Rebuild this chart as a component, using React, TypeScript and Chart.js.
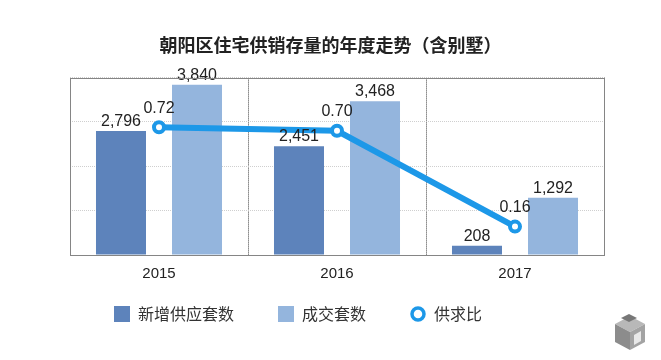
import React, { useEffect, useRef } from 'react';
import { Chart, registerables } from 'chart.js';

Chart.register(...registerables);

const categories = ['2015', '2016', '2017'];
const newSupply = [2796, 2451, 208];
const deals = [3840, 3468, 1292];
const ratio = [0.72, 0.7, 0.16];
const seriesNames = ['新增供应套数', '成交套数', '供求比'];
const titleText = '朝阳区住宅供销存量的年度走势（含别墅）';
const yMax = 4000;
const yStep = 1000;
const ratioMax = 1;

const DARK = '#5d83bb';
const LIGHT = '#94b5dd';
const LINE = '#1d98e8';
const NUM_FONT = '"Liberation Sans", Arial, Helvetica, sans-serif';
const CJK_FONT = '"Noto Sans CJK SC", "Noto Sans", sans-serif';

function ringImage(): HTMLCanvasElement {
  const c = document.createElement('canvas');
  c.width = 18;
  c.height = 18;
  const g = c.getContext('2d')!;
  g.beginPath();
  g.arc(9, 9, 6, 0, Math.PI * 2);
  g.fillStyle = '#fff';
  g.fill();
  g.lineWidth = 3.5;
  g.strokeStyle = LINE;
  g.stroke();
  return c;
}

const valueLabels = {
  id: 'valueLabels',
  afterDatasetsDraw(chart: any) {
    const ctx = chart.ctx;
    ctx.save();
    ctx.fillStyle = '#222';
    ctx.textAlign = 'center';
    ctx.textBaseline = 'alphabetic';
    ctx.font = `16px ${NUM_FONT}`;
    chart.data.datasets.forEach((ds: any, di: number) => {
      const meta = chart.getDatasetMeta(di);
      meta.data.forEach((el: any, i: number) => {
        const v = ds.data[i];
        if (ds.type === 'line') {
          ctx.fillText(v.toFixed(2), el.x, el.y - 14.5);
        } else {
          ctx.fillText(v.toLocaleString('en-US'), el.x, el.y - 5);
        }
      });
    });
    ctx.restore();
  },
};

const plotBorder = {
  id: 'plotBorder',
  afterDraw(chart: any) {
    const { ctx, chartArea } = chart;
    const { left, right, top, bottom } = chartArea;
    ctx.save();
    ctx.strokeStyle = '#858585';
    ctx.lineWidth = 1;
    ctx.strokeRect(Math.round(left) + 0.5, Math.round(top) + 0.5, Math.round(right - left), Math.round(bottom - top));
    ctx.restore();
  },
};

const logo = {
  id: 'logo',
  afterDraw(chart: any) {
    const ctx = chart.ctx;
    const poly = (pts: number[][], fill: string) => {
      ctx.beginPath();
      ctx.moveTo(pts[0][0], pts[0][1]);
      for (let i = 1; i < pts.length; i++) ctx.lineTo(pts[i][0], pts[i][1]);
      ctx.closePath();
      ctx.fillStyle = fill;
      ctx.fill();
    };
    ctx.save();
    const cx = 630;
    const ty = 316;
    poly([[cx, ty], [cx + 15, ty + 8], [cx, ty + 16], [cx - 15, ty + 8]], '#b8b8b8');
    poly([[cx - 15, ty + 8], [cx, ty + 16], [cx, ty + 34], [cx - 15, ty + 26]], '#8c8c8c');
    poly([[cx + 15, ty + 8], [cx + 15, ty + 26], [cx, ty + 34], [cx, ty + 16]], '#a3a3a3');
    poly([[cx - 1, ty - 2], [cx + 7, ty + 2], [cx - 1, ty + 6], [cx - 9, ty + 2]], '#777');
    poly([[cx + 4, ty + 19], [cx + 11, ty + 15], [cx + 11, ty + 25], [cx + 4, ty + 29]], '#e8e8e8');
    ctx.restore();
  },
};

export default function App() {
  const ref = useRef<HTMLCanvasElement | null>(null);

  useEffect(() => {
    if (!ref.current) return;
    const ring = ringImage();
    const chart = new Chart(ref.current, {
      data: {
        labels: categories,
        datasets: [
          {
            type: 'bar',
            label: seriesNames[0],
            data: newSupply,
            backgroundColor: DARK,
            borderWidth: 0,
            yAxisID: 'y',
            order: 2,
            categoryPercentage: 0.854,
            barPercentage: 0.658,
          },
          {
            type: 'bar',
            label: seriesNames[1],
            data: deals,
            backgroundColor: LIGHT,
            borderWidth: 0,
            yAxisID: 'y',
            order: 2,
            categoryPercentage: 0.854,
            barPercentage: 0.658,
          },
          {
            type: 'line',
            label: seriesNames[2],
            data: ratio,
            borderColor: LINE,
            backgroundColor: '#fff',
            borderWidth: 6,
            pointRadius: 5,
            pointBorderWidth: 4,
            pointBackgroundColor: '#fff',
            pointBorderColor: LINE,
            yAxisID: 'y1',
            order: 0,
          },
        ] as any,
      },
      options: {
        responsive: false,
        animation: false,
        layout: { padding: { top: 0, bottom: 28, left: 0, right: 0 } },
        plugins: {
          tooltip: { enabled: false },
          title: {
            display: true,
            text: titleText,
            color: '#222',
            font: { family: CJK_FONT, size: 18, weight: 'bold' },
            padding: { top: 34, bottom: 22 },
          },
          legend: {
            display: true,
            position: 'bottom',
            align: 'start',
            fullSize: false,
            labels: {
              usePointStyle: true,
              boxWidth: 16,
              boxHeight: 16,
              padding: 44,
              color: '#333',
              font: { family: CJK_FONT, size: 16 },
              generateLabels(c: any) {
                const items = Chart.defaults.plugins.legend.labels.generateLabels(c);
                items.sort((a: any, b: any) => a.datasetIndex - b.datasetIndex);
                items.forEach((it: any) => {
                  if (it.datasetIndex === 2) {
                    it.pointStyle = ring;
                  } else {
                    it.pointStyle = 'rect';
                    it.lineWidth = 0;
                  }
                });
                return items;
              },
            },
          },
        },
        scales: {
          x: {
            type: 'category',
            offset: true,
            grid: { display: true, offset: true, color: '#444', lineWidth: 1, drawTicks: false },
            border: { display: false, dash: [1, 1] },
            ticks: { color: '#222', font: { family: NUM_FONT, size: 15 }, padding: 10 },
            afterFit(scale: any) {
              scale.height = 7;
              scale._computeLabelArea = () => null;
            },
          },
          y: {
            type: 'linear',
            position: 'left',
            min: 0,
            max: yMax,
            ticks: { display: false, stepSize: yStep },
            grid: { color: '#cfcfcf', lineWidth: 1, drawTicks: false },
            border: { display: false, dash: [1, 1] },
            afterFit(scale: any) {
              scale.width = 70;
            },
          },
          y1: {
            type: 'linear',
            position: 'right',
            min: 0,
            max: ratioMax,
            ticks: { display: false },
            grid: { display: false, drawTicks: false },
            border: { display: false },
            afterFit(scale: any) {
              scale.width = 57;
            },
          },
        },
      } as any,
      plugins: [valueLabels, plotBorder, logo],
    });
    return () => chart.destroy();
  }, []);

  return (
    <div style={{ position: 'fixed', left: 0, top: 0, width: 661, height: 360, background: '#fff' }}>
      <canvas ref={ref} width={661} height={360} />
    </div>
  );
}
